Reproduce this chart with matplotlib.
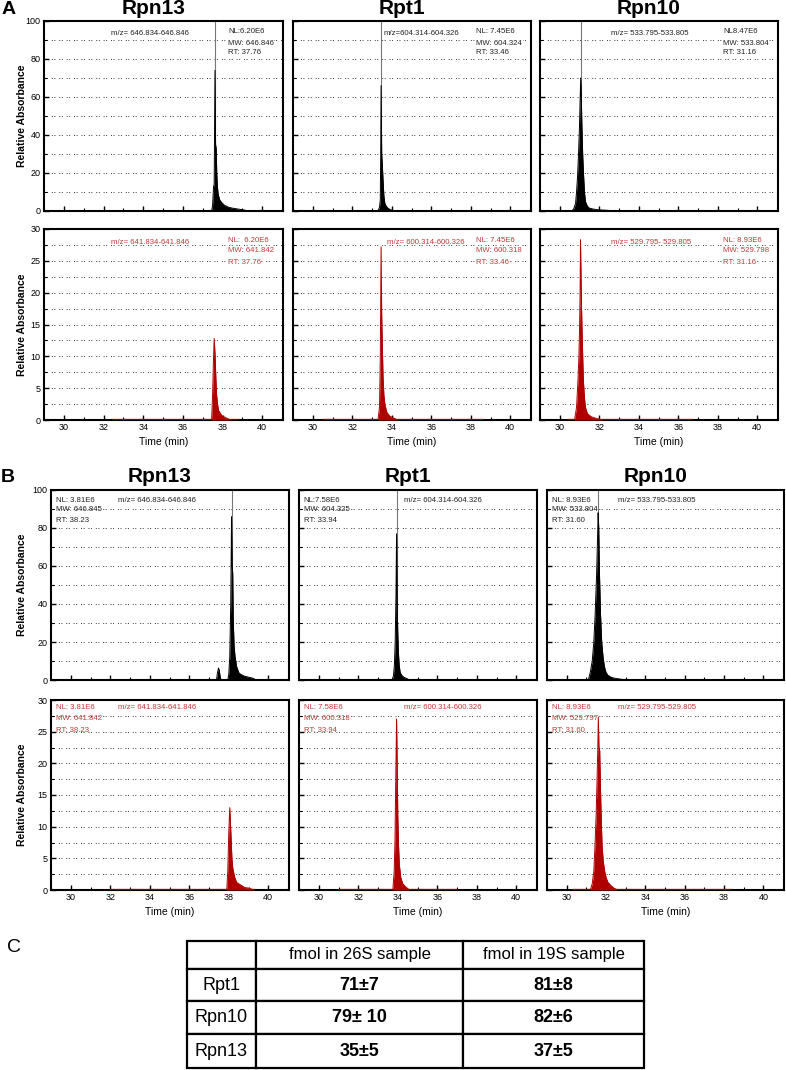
import matplotlib.pyplot as plt
from matplotlib.ticker import MultipleLocator

plt.rcParams['font.family'] = ['Liberation Sans', 'DejaVu Sans']

W, H = 786, 1070

proteins = ['Rpn13', 'Rpt1', 'Rpn10']

# ---- A: light (black) traces, time (min) / relative absorbance
a_light_t = [
    [37.45, 37.5, 37.55, 37.58, 37.62, 37.65, 37.68, 37.71, 37.74, 37.78, 37.85, 37.95, 38.1, 38.3, 38.5, 38.8, 39.1, 39.3],
    [33.3, 33.38, 33.42, 33.44, 33.46, 33.49, 33.52, 33.55, 33.6, 33.65, 33.72, 33.8, 33.95, 34.2],
    [30.6, 30.7, 30.8, 30.85, 30.9, 30.95, 31.0, 31.03, 31.06, 31.09, 31.12, 31.16, 31.2, 31.25, 31.3, 31.4, 31.5, 31.7, 32.0, 32.5, 33.0],
]
a_light_y = [
    [0, 3, 13, 14, 74, 35, 33, 20, 13, 9, 6, 4.5, 3, 2, 1.5, 1, 0.5, 0],
    [0, 2, 6, 30, 66, 30, 25, 18, 8, 4, 2.5, 1.5, 0.6, 0],
    [0, 1, 4, 10, 18, 30, 45, 58, 70, 60, 45, 30, 20, 10, 5, 2.5, 1.5, 1, 0.6, 0.3, 0],
]
a_marker = [37.62, 33.46, 31.06]

# ---- A: heavy (red) traces
a_heavy_t = [
    [37.45, 37.5, 37.54, 37.58, 37.62, 37.66, 37.7, 37.75, 37.8, 37.9, 38.0, 38.2, 38.4],
    [33.3, 33.38, 33.42, 33.46, 33.49, 33.52, 33.56, 33.6, 33.65, 33.75, 33.9, 34.1, 34.3],
    [30.75, 30.85, 30.92, 30.97, 31.0, 31.03, 31.05, 31.08, 31.1, 31.13, 31.17, 31.2, 31.25, 31.3, 31.4, 31.6, 31.9, 32.2],
]
a_heavy_y = [
    [0, 4, 9, 12.8, 10.5, 7, 4, 2.5, 1.5, 1, 0.6, 0.3, 0],
    [0, 2, 10, 27.2, 16.5, 12, 6.5, 4, 2.5, 1.2, 0.6, 0.3, 0],
    [0, 2, 6, 10, 14, 20, 28.3, 22, 18, 14, 9, 6, 3.5, 2, 1, 0.5, 0.2, 0],
]
a_heavy_base = [(32.5, 38.8), (30.5, 38.6), (30.4, 36.7)]

# ---- B: light (black) traces
b_light_t = [
    [37.38, 37.43, 37.48, 37.52, 37.56, 37.6, 37.95, 38.0, 38.05, 38.1, 38.14, 38.17, 38.2, 38.23, 38.27, 38.32, 38.4, 38.5, 38.6, 38.8, 39.0, 39.2, 39.4],
    [33.7, 33.78, 33.83, 33.87, 33.91, 33.94, 33.97, 34.0, 34.03, 34.07, 34.12, 34.2, 34.3, 34.45, 34.6],
    [31.1, 31.2, 31.3, 31.38, 31.45, 31.52, 31.57, 31.6, 31.63, 31.67, 31.72, 31.78, 31.85, 31.92, 32.0, 32.1, 32.25, 32.4, 32.7, 33.0],
]
b_light_y = [
    [0, 4, 6.3, 5, 2, 0, 0, 3, 12, 40, 86, 60, 56, 30, 18, 12, 7, 4, 3, 2, 1.5, 1, 0],
    [0, 2, 8, 20, 45, 77, 40, 25, 15, 8, 4, 2.5, 1.5, 0.8, 0],
    [0, 4, 10, 20, 35, 55, 75, 88, 80, 55, 35, 20, 12, 7, 4, 2.5, 1.5, 1, 0.5, 0],
]
b_marker = [38.14, 33.94, 31.6]

# ---- B: heavy (red) traces
b_heavy_t = [
    [37.9, 37.95, 38.0, 38.05, 38.08, 38.12, 38.16, 38.2, 38.3, 38.4, 38.6, 38.8, 39.0, 39.3],
    [33.75, 33.82, 33.86, 33.9, 33.94, 33.97, 34.0, 34.04, 34.08, 34.15, 34.25, 34.4, 34.6],
    [31.2, 31.3, 31.38, 31.44, 31.5, 31.54, 31.58, 31.61, 31.64, 31.68, 31.72, 31.76, 31.8, 31.86, 31.93, 32.0, 32.1, 32.25, 32.4, 32.6],
]
b_heavy_y = [
    [0, 3, 9, 13, 11, 8, 5, 3.5, 2, 1.2, 0.8, 0.4, 0.3, 0],
    [0, 3, 8, 18, 27, 20, 12, 7, 4, 2, 1, 0.5, 0],
    [0, 1, 3, 7, 12, 17, 22, 27.3, 22.6, 22, 16, 11, 7, 4.5, 3, 2, 1.2, 0.7, 0.3, 0],
]
b_heavy_base = [(32.0, 39.3), (31.0, 37.0), (30.3, 38.3)]

# ---- annotation strings
a_light_mz = ['m/z= 646.834-646.846', 'm/z=604.314-604.326', 'm/z= 533.795-533.805']
a_light_nl = ['NL:6.20E6', 'NL: 7.45E6', 'NL8.47E6']
a_light_mw = ['MW: 646.846', 'MW: 604.324', 'MW: 533.804']
a_light_rt = ['RT: 37.76', 'RT: 33.46', 'RT: 31.16']

a_heavy_mz = ['m/z= 641.834-641.846', 'm/z= 600.314-600.326', 'm/z= 529.795- 529.805']
a_heavy_nl = ['NL:  6.20E6', 'NL: 7.45E6', 'NL: 8.93E6']
a_heavy_mw = ['MW: 641.842', 'MW: 600.318', 'MW: 529.798']
a_heavy_rt = ['RT: 37.76', 'RT: 33.46', 'RT: 31.16']

b_light_mz = ['m/z= 646.834-646.846', 'm/z= 604.314-604.326', 'm/z= 533.795-533.805']
b_light_nl = ['NL: 3.81E6', 'NL:7.58E6', 'NL: 8.93E6']
b_light_mw = ['MW: 646.845', 'MW: 604.325', 'MW: 533.804']
b_light_rt = ['RT: 38.23', 'RT: 33.94', 'RT: 31.60']

b_heavy_mz = ['m/z= 641.834-641.846', 'm/z= 600.314-600.326', 'm/z= 529.795-529.805']
b_heavy_nl = ['NL: 3.81E6', 'NL: 7.58E6', 'NL: 8.93E6']
b_heavy_mw = ['MW: 641.842', 'MW: 600.318', 'MW: 529.797']
b_heavy_rt = ['RT: 38.23', 'RT: 33.94', 'RT: 31.60']

# ---- table C
table_cols = ['', 'fmol in 26S sample', 'fmol in 19S sample']
table_rows = ['Rpt1', 'Rpn10', 'Rpn13']
fmol_26s = ['71\u00b17', '79\u00b1 10', '35\u00b15']
fmol_19s = ['81\u00b18', '82\u00b16', '37\u00b15']

BLACK = '#000000'
RED = '#b00000'
RED_TXT = '#c03a3a'


def px_axes(l, t, r, b):
    return fig.add_axes([l / W, 1 - b / H, (r - l) / W, (b - t) / H])


fig = plt.figure(figsize=(W / 100, H / 100), dpi=100)

a_cols = [(44, 283), (293, 531), (540, 778)]
b_cols = [(51, 289), (299, 537), (547, 784)]


def panel(box, t, y, color, ymax, show_y, show_x, marker=None, base=None,
          mz='', nl='', mw='', rt='', txtcolor='k', layout='A', mzx=0.3, nly=(0.947, 0.887, 0.832)):
    ax = px_axes(*box)
    if base is not None:
        t = [base[0]] + list(t) + [base[1]]
        y = [0] + list(y) + [0]
    if marker is not None:
        ax.axvline(marker, color='#777777', lw=0.8, zorder=1)
    ax.fill_between(t, y, 0, color=color, lw=0, zorder=3)
    ax.plot(t, y, color=color, lw=0.7, zorder=4)
    if base is not None:
        ax.plot([t[0], t[-1]], [0.12, 0.12], color=color, lw=1.0, alpha=0.6, zorder=4)
    ax.set_xlim(29, 41.05)
    ax.set_ylim(0, ymax)
    ax.xaxis.set_major_locator(MultipleLocator(2))
    ax.xaxis.set_minor_locator(MultipleLocator(1))
    if ymax == 100:
        ax.yaxis.set_major_locator(MultipleLocator(20))
        ax.yaxis.set_minor_locator(MultipleLocator(10))
    else:
        ax.yaxis.set_major_locator(MultipleLocator(5))
        ax.yaxis.set_minor_locator(MultipleLocator(2.5))
    ax.yaxis.grid(True, which='both', color='#3a3a3a', lw=0.7, linestyle=(0, (1, 1.6, 1, 4)))
    ax.set_axisbelow(True)
    ax.tick_params(which='both', direction='in', top=False, right=False, labelsize=6.5, pad=2.5)
    ax.tick_params(which='major', length=3.5, width=1.0)
    ax.tick_params(which='minor', length=2, width=0.8)
    if not show_y:
        ax.set_yticklabels([])
    if show_x:
        ax.set_xlabel('Time (min)', fontsize=7.5, labelpad=3)
    else:
        ax.set_xticklabels([])
    for s in ax.spines.values():
        s.set_linewidth(1.5)
    fs = 5.6
    ax.text(mzx, nly[0] if layout == 'B' else nly[0] - 0.015, mz, transform=ax.transAxes,
            fontsize=fs, color=txtcolor, va='center', zorder=5)
    nlx = 0.77 if layout == 'A' else 0.02
    for s, yy in zip([nl, mw, rt], nly):
        ax.text(nlx, yy, s, transform=ax.transAxes, fontsize=fs, color=txtcolor,
                va='center', zorder=5, bbox=dict(fc='white', ec='none', pad=0.3) if layout == 'A' else None)
    return ax


rows = [
    # (top, bottom, cols, t, y, color, ymax, marker, base, mz, nl, mw, rt, txt, layout, showx, mzxs, nly)
    (21, 211, a_cols, a_light_t, a_light_y, BLACK, 100, a_marker, None,
     a_light_mz, a_light_nl, a_light_mw, a_light_rt, '#222222', 'A', False, [0.28, 0.38, 0.30], (0.947, 0.884, 0.835)),
    (229, 420, a_cols, a_heavy_t, a_heavy_y, RED, 30, None, a_heavy_base,
     a_heavy_mz, a_heavy_nl, a_heavy_mw, a_heavy_rt, RED_TXT, 'A', True, [0.28, 0.395, 0.30], (0.942, 0.885, 0.822)),
    (490, 680, b_cols, b_light_t, b_light_y, BLACK, 100, b_marker, None,
     b_light_mz, b_light_nl, b_light_mw, b_light_rt, '#222222', 'B', False, [0.28, 0.44, 0.30], (0.947, 0.895, 0.842)),
    (700, 890, b_cols, b_heavy_t, b_heavy_y, RED, 30, None, b_heavy_base,
     b_heavy_mz, b_heavy_nl, b_heavy_mw, b_heavy_rt, RED_TXT, 'B', True, [0.28, 0.44, 0.30], (0.958, 0.9, 0.842)),
]

for (top, bot, cols, T, Y, col, ymax, mk, base, mz, nl, mw, rt, txt, lay, showx, mzxs, nly) in rows:
    for i in range(3):
        l, r = cols[i]
        panel((l, top, r, bot), T[i], Y[i], col, ymax, i == 0, showx,
              marker=None if mk is None else mk[i], base=None if base is None else base[i],
              mz=mz[i], nl=nl[i], mw=mw[i], rt=rt[i], txtcolor=txt, layout=lay,
              mzx=mzxs[i], nly=nly)
    fig.text(22 / W, 1 - (top + bot) / 2 / H, 'Relative Absorbance', rotation=90,
             fontsize=7.5, fontweight='bold', ha='center', va='center')

# column titles and section letters
for cols, ty in [(a_cols, 9), (b_cols, 477)]:
    for (l, r), name in zip(cols, proteins):
        fig.text(((l + r) / 2 - 10) / W, 1 - ty / H, name, fontsize=15, fontweight='bold',
                 ha='center', va='center')
fig.text(9 / W, 1 - 10 / H, 'A', fontsize=14, fontweight='bold', ha='center', va='center')
fig.text(8 / W, 1 - 477 / H, 'B', fontsize=14, fontweight='bold', ha='center', va='center')
fig.text(14 / W, 1 - 947 / H, 'C', fontsize=14, ha='center', va='center')

# table
tax = px_axes(187, 941, 644, 1068)
tax.axis('off')
cell_text = [table_cols] + [[r, a, b] for r, a, b in zip(table_rows, fmol_26s, fmol_19s)]
tb = tax.table(cellText=cell_text, cellLoc='center', bbox=[0, 0, 1, 1],
               colWidths=[69 / 457, 207 / 457, 181 / 457])
tb.auto_set_font_size(False)
row_h = [28, 32, 33, 34]
for (r, c), cell in tb.get_celld().items():
    cell.set_linewidth(1.6)
    cell.set_height(row_h[r] / 127)
    txt = cell.get_text()
    if r == 0:
        txt.set_fontsize(12)
    elif c == 0:
        txt.set_fontsize(13)
    else:
        txt.set_fontsize(13)
        txt.set_fontweight('bold')

fig.savefig('out.png', dpi=100)
